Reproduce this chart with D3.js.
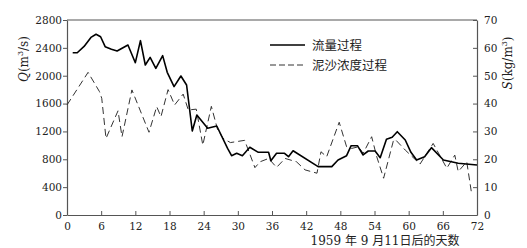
<!DOCTYPE html>
<html>
<head>
<meta charset="utf-8">
<script src="https://cdn.jsdelivr.net/npm/d3@7"></script>
<style>
  body { margin: 0; background: #fff; }
  svg { display: block; }
</style>
</head>
<body>
<div id="chart"></div>
<script>
// days after 1959-09-11, discharge Q (m3/s)
const qDays = [1, 1.8, 3, 4.2, 5.1, 5.9, 6.7, 7.8, 8.8, 10.7, 12, 12.9, 13.75, 14.6, 15.6, 16.8, 17.6, 18.8, 20, 21, 22, 22.8, 24.7, 26.3, 28.2, 28.9, 29.8, 30.8, 32.1, 33.6, 35.4, 35.8, 36.8, 38.2, 38.9, 39.7, 44.1, 46.5, 47.6, 49.1, 49.9, 51, 52, 52.9, 54.1, 55, 56.1, 57.1, 58, 59.4, 60.4, 61.4, 62.8, 64, 66.1, 68.7, 72];
const qValues = [2330, 2330, 2420, 2550, 2595, 2560, 2417, 2380, 2355, 2441, 2187, 2503, 2154, 2264, 2106, 2288, 2049, 1843, 1996, 1867, 1206, 1436, 1245, 1278, 958, 852, 886, 852, 972, 900, 900, 780, 886, 886, 837, 923, 694, 694, 790, 852, 995, 995, 862, 919, 919, 823, 1087, 1116, 1196, 1077, 900, 790, 837, 967, 790, 742, 718];

// sediment concentration S (kg/m3)
const sDays = [0, 3.7, 5.7, 6.1, 6.85, 8.96, 9.66, 11.4, 14.4, 15.75, 16.5, 17.75, 18.9, 20.4, 21.3, 22.7, 23.85, 25.35, 26.4, 27.4, 28.7, 31.2, 33, 33.9, 35.4, 36.8, 38.3, 40.3, 41.8, 43.9, 44.6, 45.6, 47.8, 49.1, 50, 51.2, 52, 53.5, 54.4, 55.6, 57.3, 57.6, 59.4, 62, 64.3, 66.7, 68.1, 68.7, 70.2, 71];
const sValues = [39.5, 51.2, 44.3, 41.9, 27.5, 37.4, 28.1, 44.9, 29.7, 38.9, 35.3, 45, 39.5, 43.4, 37.7, 38, 25.1, 39, 31, 27.5, 26, 26.8, 17, 19.1, 20.3, 17.1, 20.3, 19.1, 16.2, 15, 22.7, 20.9, 33.3, 24.5, 23.9, 24.5, 22.1, 28.1, 20.9, 13.2, 26.5, 27.2, 23.3, 18.3, 25.7, 16.8, 21.5, 15.6, 19.1, 8.4];

const xTicks = d3.range(0, 73, 6);
const qTicks = d3.range(0, 2801, 400);
const sTicks = d3.range(0, 71, 10);
const legendLabels = ['流量过程', '泥沙浓度过程'];

const W = 527, H = 248;
const margin = { top: 20, right: 50, bottom: 33, left: 67 };
const width = W - margin.left - margin.right;
const height = H - margin.top - margin.bottom;
const serif = 'DejaVu Serif, Liberation Serif, serif';
const axisColor = '#555';

const svg = d3.select('#chart').append('svg')
    .attr('width', W)
    .attr('height', H);

const g = svg.append('g')
    .attr('transform', `translate(${margin.left},${margin.top})`);

const x = d3.scaleLinear().domain([0, 72]).range([0, width]);
const yQ = d3.scaleLinear().domain([0, 2800]).range([height, 0]);
const yS = d3.scaleLinear().domain([0, 70]).range([height, 0]);

// axes
const styleAxis = sel => {
    sel.select('.domain').attr('stroke', axisColor).attr('stroke-width', 1.2);
    sel.selectAll('.tick line').attr('stroke', axisColor);
    sel.selectAll('.tick text')
        .attr('fill', '#222')
        .attr('font-family', serif)
        .attr('font-size', '10.5px');
};

g.append('g')
    .attr('transform', `translate(0,${height})`)
    .call(d3.axisBottom(x).tickValues(xTicks).tickFormat(d3.format('d'))
        .tickSize(-4).tickPadding(8).tickSizeOuter(0))
    .call(styleAxis);

g.append('g')
    .call(d3.axisLeft(yQ).tickValues(qTicks).tickFormat(d3.format('d'))
        .tickSize(4).tickPadding(1).tickSizeOuter(0))
    .call(styleAxis);

g.append('g')
    .attr('transform', `translate(${width},0)`)
    .call(d3.axisRight(yS).tickValues(sTicks).tickFormat(d3.format('d'))
        .tickSize(-4).tickPadding(7).tickSizeOuter(0))
    .call(styleAxis);

// top frame
g.append('line')
    .attr('x1', 0).attr('x2', width)
    .attr('y1', 0).attr('y2', 0)
    .attr('stroke', axisColor)
    .attr('stroke-width', 1.2);

// series
const qData = qDays.map((d, i) => ({ day: d, v: qValues[i] }));
const sData = sDays.map((d, i) => ({ day: d, v: sValues[i] }));

g.append('path')
    .datum(sData)
    .attr('fill', 'none')
    .attr('stroke', '#333')
    .attr('stroke-width', 1)
    .attr('stroke-dasharray', '7,4')
    .attr('d', d3.line().x(d => x(d.day)).y(d => yS(d.v)));

g.append('path')
    .datum(qData)
    .attr('fill', 'none')
    .attr('stroke', '#000')
    .attr('stroke-width', 1.6)
    .attr('stroke-linejoin', 'round')
    .attr('d', d3.line().x(d => x(d.day)).y(d => yQ(d.v)));

// legend
const legend = svg.append('g');
legendLabels.forEach((label, i) => {
    const ly = 45 + i * 20;
    legend.append('line')
        .attr('x1', 270).attr('x2', 305)
        .attr('y1', ly).attr('y2', ly)
        .attr('stroke', i === 0 ? '#000' : '#333')
        .attr('stroke-width', i === 0 ? 1.6 : 1)
        .attr('stroke-dasharray', i === 0 ? null : '6,3');
    legend.append('text')
        .attr('x', 312)
        .attr('y', ly + 4.5)
        .attr('font-family', 'Noto Sans CJK SC, sans-serif')
        .attr('font-size', '12.5px')
        .attr('fill', '#222')
        .text(label);
});

// axis titles
const qTitle = svg.append('text')
    .attr('transform', 'translate(28,59) rotate(-90)')
    .attr('text-anchor', 'middle')
    .attr('font-family', serif)
    .attr('font-size', '12px')
    .attr('fill', '#222');
qTitle.append('tspan').attr('font-style', 'italic').text('Q');
qTitle.append('tspan').text('(m');
qTitle.append('tspan').attr('font-size', '8px').attr('dy', -5).text('3');
qTitle.append('tspan').attr('dy', 5).text('/s)');

const sTitle = svg.append('text')
    .attr('transform', 'translate(512,63) rotate(-90)')
    .attr('text-anchor', 'middle')
    .attr('font-family', serif)
    .attr('font-size', '12px')
    .attr('fill', '#222');
sTitle.append('tspan').attr('font-style', 'italic').text('S');
sTitle.append('tspan').text('(kg/m');
sTitle.append('tspan').attr('font-size', '8px').attr('dy', -5).text('3');
sTitle.append('tspan').attr('dy', 5).text(')');

svg.append('text')
    .attr('x', 385)
    .attr('y', 245)
    .attr('text-anchor', 'middle')
    .attr('font-family', 'DejaVu Serif, Noto Sans CJK SC, serif')
    .attr('font-size', '12px')
    .attr('fill', '#222')
    .text('1959 年 9 月11日后的天数');
</script>
</body>
</html>
